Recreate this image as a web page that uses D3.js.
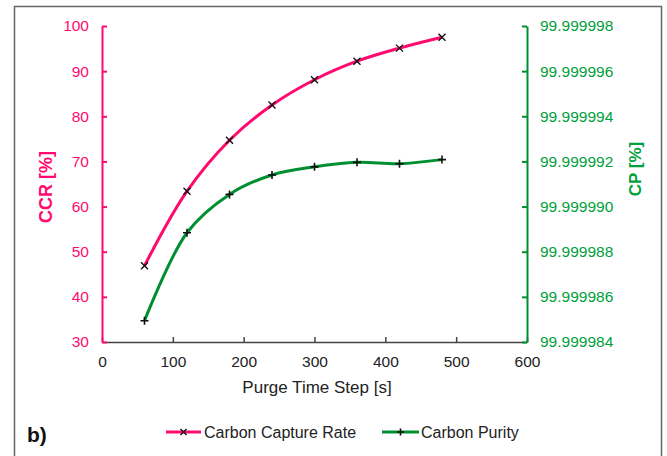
<!DOCTYPE html>
<html>
<head>
<meta charset="utf-8">
<script src="https://cdn.jsdelivr.net/npm/d3@7"></script>
<style>
  html, body { margin: 0; padding: 0; background: #fff; }
  svg { display: block; font-family: "Liberation Sans", Arial, sans-serif; }
</style>
</head>
<body>
<svg id="chart" width="667" height="456"></svg>
<script>
const timeSteps = [60, 120, 180, 240, 300, 360, 420, 480];
const ccrValues = [46.9, 63.4, 74.7, 82.5, 88.1, 92.2, 95.1, 97.5];
const cpValues = [99.99998494, 99.99998884, 99.99999054, 99.9999914, 99.99999176, 99.99999196, 99.9999919, 99.99999208];
const xTicks = [0, 100, 200, 300, 400, 500, 600];
const ccrTicks = [30, 40, 50, 60, 70, 80, 90, 100];
const cpTicks = [99.999984, 99.999986, 99.999988, 99.99999, 99.999992, 99.999994, 99.999996, 99.999998];
const seriesNames = ["Carbon Capture Rate", "Carbon Purity"];

const PINK = "#ff0a6e";
const GREEN_TXT = "#00a03c";
const GREEN_LINE = "#008f30";
const AXIS_GRAY = "#444";

const svg = d3.select("#chart");

// frame
svg.append("rect").attr("x", 14.5).attr("y", 6.5).attr("width", 647).attr("height", 460)
  .attr("fill", "none").attr("stroke", "#666").attr("stroke-width", 1.5);

const pLeft = 102, pRight = 527, pTop = 26, pBottom = 342;
const x = d3.scaleLinear().domain([0, 600]).range([pLeft, pRight]);
const yL = d3.scaleLinear().domain([30, 100]).range([pBottom, pTop]);
const yR = d3.scaleLinear().domain([99.999984, 99.999998]).range([pBottom, pTop]);

// x axis
const gx = svg.append("g").attr("transform", `translate(0,${pBottom})`)
  .call(d3.axisBottom(x).tickValues(xTicks).tickSizeInner(-5).tickSizeOuter(0).tickPadding(14));
gx.select(".domain").attr("stroke", AXIS_GRAY).attr("stroke-width", 1.5);
gx.selectAll(".tick line").attr("stroke", AXIS_GRAY).attr("stroke-width", 1.5);
gx.selectAll(".tick text").attr("fill", "#222").attr("font-size", 15.5).attr("font-family", "Liberation Sans, Arial, sans-serif");

// left axis
const gl = svg.append("g").attr("transform", `translate(${pLeft},0)`)
  .call(d3.axisLeft(yL).tickValues(ccrTicks).tickSizeInner(-5).tickSizeOuter(0).tickPadding(13));
gl.select(".domain").attr("stroke", PINK).attr("stroke-width", 2);
gl.selectAll(".tick line").attr("stroke", PINK).attr("stroke-width", 2);
gl.selectAll(".tick text").attr("fill", PINK).attr("font-size", 15.5).attr("font-family", "Liberation Sans, Arial, sans-serif");

// right axis
const gr = svg.append("g").attr("transform", `translate(${pRight},0)`)
  .call(d3.axisRight(yR).tickValues(cpTicks).tickFormat(d3.format(".6f")).tickSizeInner(-5).tickSizeOuter(0).tickPadding(13));
gr.select(".domain").attr("stroke", GREEN_LINE).attr("stroke-width", 2);
gr.selectAll(".tick line").attr("stroke", GREEN_LINE).attr("stroke-width", 2);
gr.selectAll(".tick text").attr("fill", GREEN_TXT).attr("font-size", 15.5).attr("font-family", "Liberation Sans, Arial, sans-serif");

// axis titles
svg.append("text").attr("transform", "translate(52,187) rotate(-90)")
  .attr("text-anchor", "middle").attr("font-weight", "bold").attr("font-size", 18)
  .attr("fill", PINK).text("CCR [%]");
svg.append("text").attr("transform", "translate(641,169) rotate(-90)")
  .attr("text-anchor", "middle").attr("font-weight", "bold").attr("font-size", 17)
  .attr("fill", GREEN_TXT).text("CP [%]");
svg.append("text").attr("x", 317).attr("y", 393)
  .attr("text-anchor", "middle").attr("font-size", 17).attr("fill", "#222").text("Purge Time Step [s]");

// lines
const curve = d3.curveCatmullRom.alpha(0.5);
const ccrData = timeSteps.map((t, i) => [t, ccrValues[i]]);
const cpData = timeSteps.map((t, i) => [t, cpValues[i]]);

svg.append("path").datum(cpData)
  .attr("d", d3.line().x(d => x(d[0])).y(d => yR(d[1])).curve(curve))
  .attr("fill", "none").attr("stroke", GREEN_LINE).attr("stroke-width", 3);
svg.append("path").datum(ccrData)
  .attr("d", d3.line().x(d => x(d[0])).y(d => yL(d[1])).curve(curve))
  .attr("fill", "none").attr("stroke", PINK).attr("stroke-width", 3);

function crossX(g, cx, cy, s) {
  g.append("path").attr("d", `M${cx - s},${cy - s}L${cx + s},${cy + s}M${cx - s},${cy + s}L${cx + s},${cy - s}`)
    .attr("stroke", "#111").attr("stroke-width", 1.4).attr("fill", "none");
}
function crossP(g, cx, cy, s) {
  g.append("path").attr("d", `M${cx - s},${cy}L${cx + s},${cy}M${cx},${cy - s}L${cx},${cy + s}`)
    .attr("stroke", "#111").attr("stroke-width", 1.6).attr("fill", "none");
}
const mk = svg.append("g");
ccrData.forEach(d => crossX(mk, x(d[0]), yL(d[1]), 3.5));
cpData.forEach(d => crossP(mk, x(d[0]), yR(d[1]), 4));

// legend
svg.append("text").attr("x", 27).attr("y", 442).attr("font-weight", "bold").attr("font-size", 21)
  .attr("fill", "#111").text("b)");
const lg = svg.append("g");
lg.append("line").attr("x1", 166).attr("x2", 201).attr("y1", 432).attr("y2", 432)
  .attr("stroke", PINK).attr("stroke-width", 3);
crossX(lg, 183.5, 432, 3);
lg.append("text").attr("x", 204).attr("y", 437.5).attr("font-size", 16).attr("fill", "#222").text(seriesNames[0]);
lg.append("line").attr("x1", 382).attr("x2", 419).attr("y1", 432).attr("y2", 432)
  .attr("stroke", GREEN_LINE).attr("stroke-width", 3);
crossP(lg, 400.5, 432, 3.5);
lg.append("text").attr("x", 421).attr("y", 437.5).attr("font-size", 16).attr("fill", "#222").text(seriesNames[1]);
</script>
</body>
</html>
